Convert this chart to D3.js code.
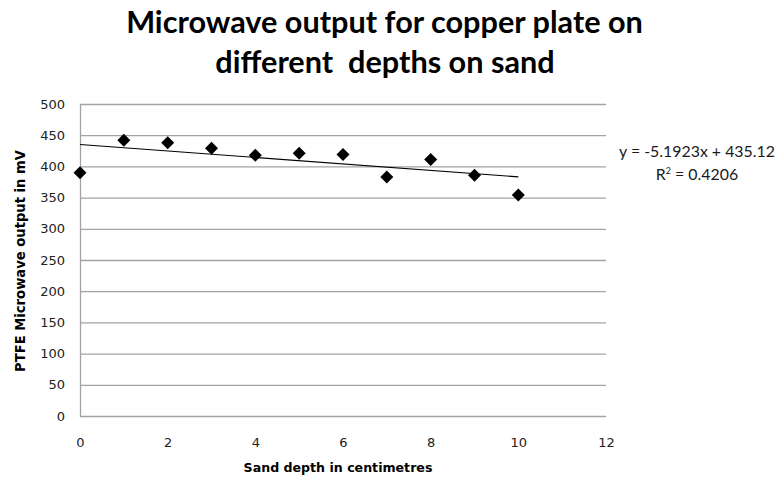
<!DOCTYPE html>
<html><head><meta charset="utf-8">
<script src="https://cdn.jsdelivr.net/npm/d3@7/dist/d3.min.js"></script>
<style>body{margin:0;background:#fff}svg{display:block}</style>
</head><body>
<script>
const depths = [0,1,2,3,4,5,6,7,8,9,10];
const outputs = [390,442,438,429,418,421,419,383,411,386,354];
const xTicks = [0,2,4,6,8,10,12];
const yTicks = [0,50,100,150,200,250,300,350,400,450,500];
const slope = -5.1923, intercept = 435.12, r2 = "0.4206";
const titleLines = ["Microwave output for copper plate on","different  depths on sand"];
const xTitle = "Sand depth in centimetres";
const yTitle = "PTFE Microwave output in mV";

const W=780,H=478;
const svg=d3.select("body").append("svg").attr("width",W).attr("height",H);
const font="Lato, 'Open Sans', sans-serif";
const tickFont="'DejaVu Sans', Verdana, sans-serif";
const x=d3.scaleLinear().domain([0,12]).range([80,606]);
const y=d3.scaleLinear().domain([0,500]).range([416,104]);

function fitText(sel,target){const w=sel.node().getComputedTextLength();const fs=parseFloat(sel.attr("font-size"));sel.attr("font-size",fs*target/w);}
const t1=svg.append("text").attr("x",384.5).attr("y",33).attr("text-anchor","middle").attr("font-family",font).attr("font-weight","bold").attr("font-size",26).text(titleLines[0]);
fitText(t1,517);
svg.append("text").attr("x",385).attr("y",73).attr("text-anchor","middle").attr("font-family",font).attr("font-weight","bold").attr("font-size",t1.attr("font-size")).style("white-space","pre").text(titleLines[1]);

// grid
svg.append("g").selectAll("line").data(yTicks).join("line")
 .attr("x1",x(0)).attr("x2",x(12)).attr("y1",d=>y(d)+0.5).attr("y2",d=>y(d)+0.5)
 .attr("stroke","#a3a3a3").attr("stroke-width",1.3);
svg.append("line").attr("x1",x(0)+0.5).attr("x2",x(0)+0.5).attr("y1",y(500)).attr("y2",y(0)+1).attr("stroke","#a3a3a3").attr("stroke-width",1.3);

// axes labels
const yAxis=d3.axisLeft(y).tickValues(yTicks).tickSize(0).tickPadding(15);
const ga=svg.append("g").attr("transform",`translate(${x(0)},0)`).call(yAxis);
ga.select(".domain").remove();
ga.selectAll("text").attr("font-family",tickFont).attr("font-size",13).attr("fill","#222");
const xAxis=d3.axisBottom(x).tickValues(xTicks).tickSize(0).tickPadding(22);
const gx=svg.append("g").attr("transform",`translate(0,${y(0)})`).call(xAxis);
gx.select(".domain").remove();
gx.selectAll("text").attr("font-family",tickFont).attr("font-size",13).attr("fill","#222");

const xt=svg.append("text").attr("x",338).attr("y",472).attr("text-anchor","middle").attr("font-family",tickFont).attr("font-weight","bold").attr("font-size",12).text(xTitle);
fitText(xt,189);
const yt=svg.append("text").attr("transform","translate(25,261) rotate(-90)").attr("text-anchor","middle").attr("font-family",tickFont).attr("font-weight","bold").attr("font-size",11).text(yTitle);
fitText(yt,222);

// trendline
svg.append("line").attr("x1",x(0)).attr("x2",x(10)).attr("y1",y(intercept)).attr("y2",y(intercept+slope*10)).attr("stroke","#000").attr("stroke-width",1.2);

// markers (square diamonds)
const s=6.5;
svg.append("g").selectAll("path").data(depths).join("path")
 .attr("transform",(d,i)=>`translate(${x(d)},${y(outputs[i])})`)
 .attr("d",`M0,${-s}L${s},0L0,${s}L${-s},0Z`)
 .attr("fill","#000");

// equation
const eq=svg.append("text").attr("x",697).attr("y",157).attr("text-anchor","middle").attr("font-family",font).attr("font-size",14).attr("fill","#1a1a1a").text(`y = ${slope}x + ${intercept}`);
fitText(eq,156);
const r=svg.append("text").attr("x",697).attr("y",180).attr("text-anchor","middle").attr("font-family",font).attr("font-size",eq.attr("font-size")).attr("fill","#1a1a1a");
r.append("tspan").text("R");
r.append("tspan").attr("font-size",9).attr("dy",-6).text("2");
r.append("tspan").attr("dy",6).text(` = ${r2}`);
</script>
</body></html>
